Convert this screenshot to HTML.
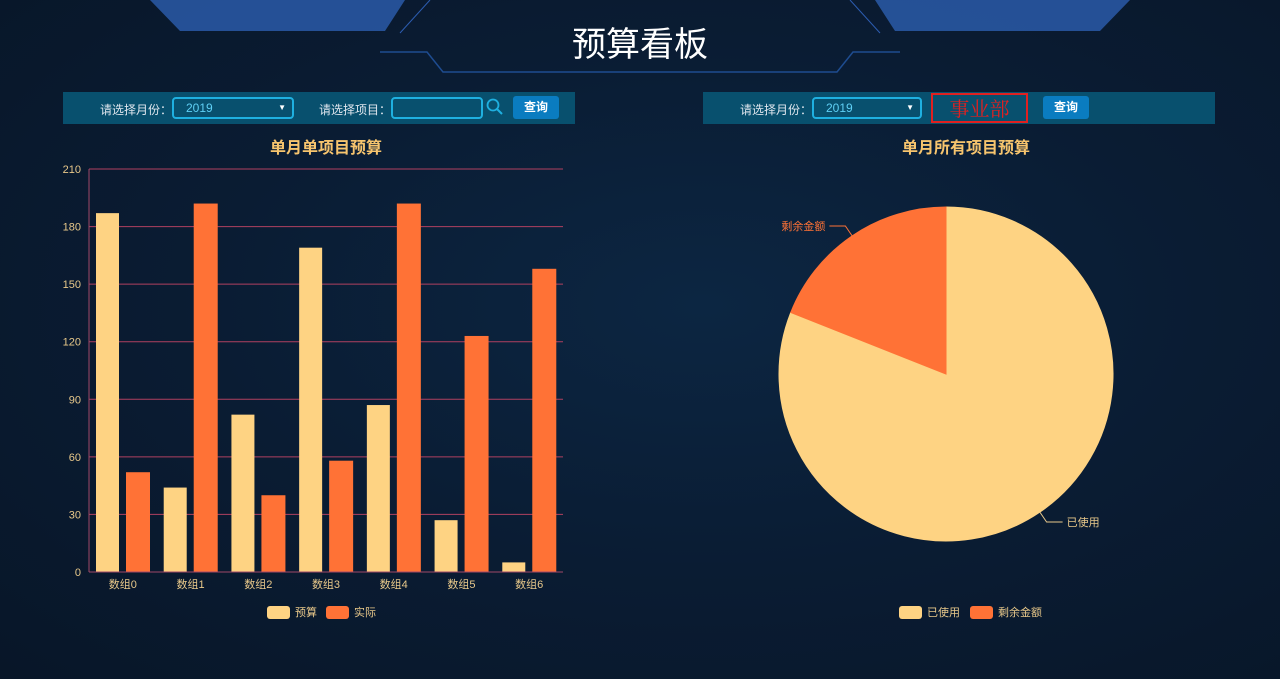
<!DOCTYPE html>
<html><head><meta charset="utf-8">
<style>
body{margin:0;width:1280px;height:679px;overflow:hidden;background:radial-gradient(ellipse at 55% 45%,#0c2642 0%,#0a1c33 50%,#081628 100%);font-family:"Liberation Sans","Noto Sans CJK SC",sans-serif;position:relative}
.bar{position:absolute;top:92px;height:32px;background:#08506e}
.lbl{position:absolute;top:9px;font-size:12px;color:#dfe6ee}
.sel{position:absolute;top:5px;height:18px;border:2px solid #1fb0e0;border-radius:4px;color:#5fd0f5;font-size:12px;line-height:18px;box-sizing:content-box}
.btn{position:absolute;top:4px;width:46px;height:23px;background:#0a7cc0;border-radius:3px;color:#fff;font-size:12px;font-weight:bold;text-align:center;line-height:23px}
</style></head><body>
<svg width="1280" height="80" style="position:absolute;left:0;top:0">
<polygon points="150,0 405,0 385,31 180,31" fill="#2a5aa8" opacity="0.85"/>
<polygon points="875,0 1130,0 1100,31 895,31" fill="#2a5aa8" opacity="0.85"/>
<polyline points="430,0 400,33" stroke="#2c5cb0" fill="none"/><polyline points="850,0 880,33" stroke="#2c5cb0" fill="none"/>
<polyline points="380,52 427,52 443,72 837,72 853,52 900,52" stroke="#1e4c90" fill="none" stroke-width="1.5"/>
</svg>
<div style="position:absolute;left:0;width:1280px;top:17px;text-align:center;color:#fff;font-size:34px;font-family:'Noto Sans CJK SC',sans-serif">预算看板</div>

<div class="bar" style="left:63px;width:512px">
<span class="lbl" style="left:37px">请选择月份：</span>
<div class="sel" style="left:109px;width:106px;padding-left:12px">2019<span style="position:absolute;right:6px;font-size:8px;color:#fff">▼</span></div>
<span class="lbl" style="left:256px">请选择项目：</span>
<div class="sel" style="left:328px;width:88px"></div>
<svg style="position:absolute;left:423px;top:6px" width="18" height="18"><circle cx="7" cy="7" r="5.5" stroke="#1fb0e0" stroke-width="1.8" fill="none"/><line x1="11" y1="11" x2="16" y2="16" stroke="#1fb0e0" stroke-width="2"/></svg>
<div class="btn" style="left:450px">查询</div>
</div>

<div class="bar" style="left:703px;width:512px">
<span class="lbl" style="left:37px">请选择月份：</span>
<div class="sel" style="left:109px;width:94px;padding-left:12px">2019<span style="position:absolute;right:6px;font-size:8px;color:#fff">▼</span></div>
<div style="position:absolute;left:228px;top:1px;width:93px;height:26px;border:2px solid #e02020;color:#e02020;font-size:20px;line-height:26px;text-align:center;font-family:'Noto Serif CJK SC',serif">事业部</div>
<div class="btn" style="left:340px">查询</div>
</div>

<svg id="bar" width="1280" height="679" style="position:absolute;left:0;top:0"></svg>
<script>
const categories=["数组0","数组1","数组2","数组3","数组4","数组5","数组6"];
const budget=[187,44,82,169,87,27,5];
const actual=[52,192,40,58,192,123,158];
const yTicks=[0,30,60,90,120,150,180,210];
const pieNames=["已使用","剩余金额"];
const pieValues=[81,19];
const NS="http://www.w3.org/2000/svg";
const svg=document.getElementById('bar');
function mk(t,a,txt){const e=document.createElementNS(NS,t);for(const k in a)e.setAttribute(k,a[k]);if(txt!=null)e.textContent=txt;svg.appendChild(e);return e;}
const X0=89,X1=563,Y0=572,Y1=169,YMAX=210;
const y=v=>Y0-(v/YMAX)*(Y0-Y1);
const cw=(X1-X0)/categories.length;
const t1=mk('text',{x:326,y:153,'text-anchor':'middle',fill:'#f7c56e','font-size':16,'font-weight':'bold'},'单月单项目预算');

yTicks.forEach(v=>{
 if(v>0){const l=mk('line',{x1:X0,x2:X1,y1:y(v),y2:y(v),stroke:'#b04060','stroke-width':1});}
 const t=mk('text',{x:81,y:y(v)+4,'text-anchor':'end',fill:'#e8c88a','font-size':11},v);
 
});
const ax=mk('line',{x1:X0,x2:X0,y1:Y1,y2:Y0,stroke:'#a04868'});
categories.forEach((c,i)=>{
 const x=X0+i*cw;
 const b=mk('rect',{x:x+7,y:y(budget[i]),width:23,height:Y0-y(budget[i]),fill:'#fed383'});
 
 const a=mk('rect',{x:x+37,y:y(actual[i]),width:24,height:Y0-y(actual[i]),fill:'#ff7236'});
 
 const t=mk('text',{x:x+cw/2,y:588,'text-anchor':'middle',fill:'#e8c88a','font-size':11},c);
 
});
const xa=mk('line',{x1:X0,x2:X1,y1:Y0,y2:Y0,stroke:'#a04868'});
function legend(x,col,txt,name){const r=mk('rect',{x:x,y:606,width:23,height:13,rx:3,fill:col});
 const t=mk('text',{x:x+28,y:616,fill:'#e8c88a','font-size':11},txt);}
legend(267,'#fed383','预算','legend-budget');legend(326,'#ff7236','实际','legend-actual');
// pie
const t2=mk('text',{x:966,y:153,'text-anchor':'middle',fill:'#f7c56e','font-size':16,'font-weight':'bold'},'单月所有项目预算');

const CX=946,CY=374,R=167,cols=['#fed383','#ff7236'];
const tot=pieValues.reduce((s,v)=>s+v,0);let ang=0;
pieValues.forEach((v,i)=>{
 const a0=ang,a1=ang+v/tot*2*Math.PI;ang=a1;
 const p=a=>[CX+R*Math.sin(a),CY-R*Math.cos(a)];
 const [x0,y0]=p(a0),[x1,y1]=p(a1);
 const s=mk('path',{d:`M${CX},${CY}L${x0},${y0}A${R},${R} 0 ${a1-a0>Math.PI?1:0} 1 ${x1},${y1}Z`,fill:cols[i],stroke:cols[i]});
 
 const m=(a0+a1)/2,sx=Math.sin(m),sy=-Math.cos(m);
 const ex=CX+(R+12)*sx,ey=CY+(R+12)*sy,hx=ex+(sx>0?16:-16);
 const l=mk('polyline',{points:`${CX+R*sx},${CY+R*sy} ${ex},${ey} ${hx},${ey}`,fill:'none',stroke:i==0?'#e8c88a':'#ff7236'});
 
 const t=mk('text',{x:hx+(sx>0?4:-4),y:ey+4,'text-anchor':sx>0?'start':'end',fill:i==0?'#e8c88a':'#ff7236','font-size':11},pieNames[i]);
 
});
legend(899,'#fed383','已使用','legend-used');legend(970,'#ff7236','剩余金额','legend-remaining');
</script>
</body></html>
